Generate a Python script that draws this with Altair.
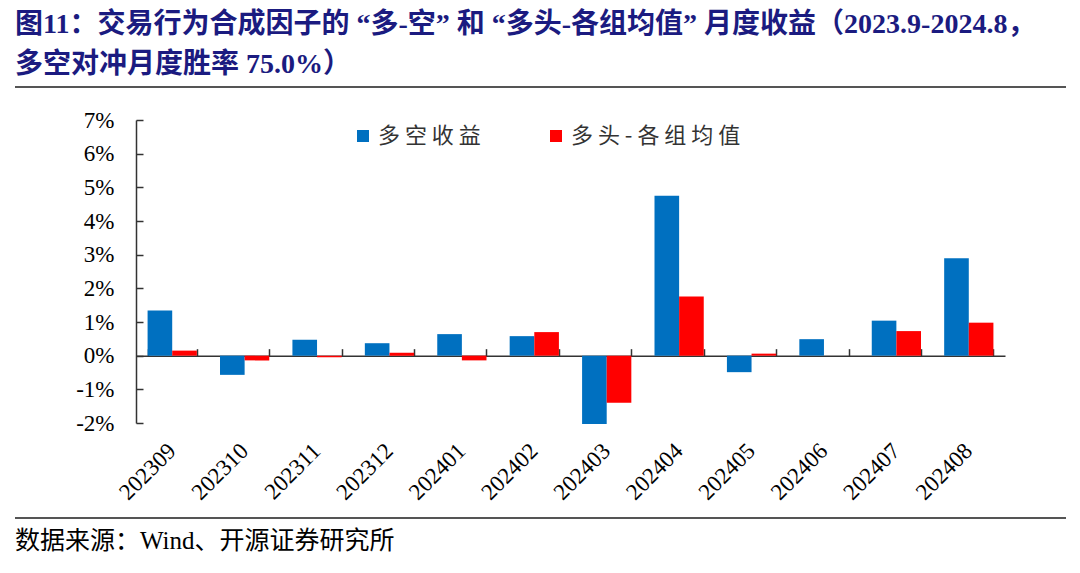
import altair as alt
import pandas as pd

# ---------------- data ----------------
months = ["202309", "202310", "202311", "202312", "202401", "202402",
          "202403", "202404", "202405", "202406", "202407", "202408"]
long_short = [1.34, -0.57, 0.47, 0.37, 0.64, 0.58, -2.03, 4.75, -0.49, 0.49, 1.04, 2.89]
long_mean = [0.15, -0.14, -0.05, 0.09, -0.14, 0.70, -1.40, 1.76, 0.06, 0.00, 0.73, 0.98]
series_names = ["多空收益", "多头-各组均值"]
series_colors = ["#0070C0", "#FF0000"]
y_ticks = [-2, -1, 0, 1, 2, 3, 4, 5, 6, 7]
title_lines = ["图11：交易行为合成因子的 “多-空” 和 “多头-各组均值” 月度收益（2023.9-2024.8，",
               "多空对冲月度胜率 75.0%）"]
source_text = "数据来源：Wind、开源证券研究所"

df = pd.DataFrame({
    "month": months * 2,
    "series": [series_names[0]] * len(months) + [series_names[1]] * len(months),
    "value": long_short + long_mean,
})

# ---------------- layout ----------------
W, H = 869, 303
SERIF = "Liberation Serif, Noto Sans CJK SC"
CJK = "Noto Sans CJK SC"
AXIS_COLOR = "#333333"

x_scale = alt.Scale(paddingInner=0.32, paddingOuter=0.16)
y_scale = alt.Scale(domain=[-2, 7], nice=False, zero=False)

bars = alt.Chart(df).mark_bar().encode(
    x=alt.X("month:N", sort=months, scale=x_scale,
            axis=alt.Axis(orient="bottom", title=None, domain=False, ticks=False, tickSize=0,
                          grid=False, labelAngle=-45, labelAlign="right", labelBaseline="middle",
                          labelPadding=24, labelFont=SERIF, labelFontSize=23, labelColor="#000000")),
    xOffset=alt.XOffset("series:N", sort=series_names),
    y=alt.Y("value:Q", scale=y_scale,
            axis=alt.Axis(orient="left", title=None, values=y_ticks, domain=False, ticks=False,
                          tickSize=0, grid=False, labelExpr="datum.value + '%'", labelPadding=22,
                          labelFont=SERIF, labelFontSize=23, labelColor="#000000")),
    color=alt.Color("series:N", sort=series_names,
                    scale=alt.Scale(domain=series_names, range=series_colors),
                    legend=alt.Legend(orient="none", legendX=216, legendY=5, direction="horizontal",
                                      title=None, symbolType="square", symbolSize=144,
                                      symbolStrokeWidth=0, labelFont=CJK, labelFontSize=22,
                                      labelColor="#333333", labelOffset=4, columnPadding=64,
                                      padding=0, labelLimit=400,
                                      labelExpr="join(split(datum.label, ''), ' ')")),
)

# zero line with upward ticks at category boundaries
zero_axis = alt.Chart(df).mark_rule(opacity=0).encode(
    x=alt.X("month:N", sort=months, scale=x_scale,
            axis=alt.Axis(orient="top", title=None, labels=False, grid=False, domain=True,
                          domainColor=AXIS_COLOR, domainWidth=1.5, ticks=True, tickBand="extent",
                          tickSize=7, tickColor=AXIS_COLOR, tickWidth=1.5, offset=-H * 7 / 9)),
)

# y axis line with inward ticks
y_axis_in = alt.Chart(df).mark_rule(opacity=0).encode(
    y=alt.Y("value:Q", scale=y_scale,
            axis=alt.Axis(orient="right", offset=-W, title=None, values=y_ticks, labels=False,
                          grid=False, domain=True, domainColor=AXIS_COLOR, domainWidth=1.5,
                          ticks=True, tickSize=7, tickColor=AXIS_COLOR, tickWidth=1.5)),
)


def text_layer(txt, x, y, **kw):
    return alt.Chart(pd.DataFrame({"t": [txt]})).mark_text(
        align="left", baseline="alphabetic", **kw
    ).encode(text="t:N", x=alt.value(x), y=alt.value(y))


def hline(y, x1, x2):
    return alt.Chart(pd.DataFrame({"k": [0]})).mark_rule(color="#555555", strokeWidth=2).encode(
        x=alt.value(x1), x2=alt.value(x2), y=alt.value(y))


title1 = text_layer(title_lines[0], -121, -87, font=SERIF, fontSize=28, fontWeight="bold", color="#1B1B80")
title2 = text_layer(title_lines[1], -121, -47, font=SERIF, fontSize=28, fontWeight="bold", color="#1B1B80")
source = text_layer(source_text, -121, 429, font=SERIF, fontSize=25, color="#000000")
rule_top = hline(-33, -121, 930)
rule_bottom = hline(398, -121, 930)

chart = alt.layer(
    bars, zero_axis, y_axis_in, title1, title2, source, rule_top, rule_bottom
).resolve_axis(
    x="independent", y="independent"
).properties(
    width=W, height=H,
    autosize=alt.AutoSizeParams(type="none"),
    padding={"left": 128, "top": 112, "right": 64, "bottom": 140},
).configure_view(stroke=None)

chart.save("out.html", embed_options={"renderer": "svg", "actions": False})
